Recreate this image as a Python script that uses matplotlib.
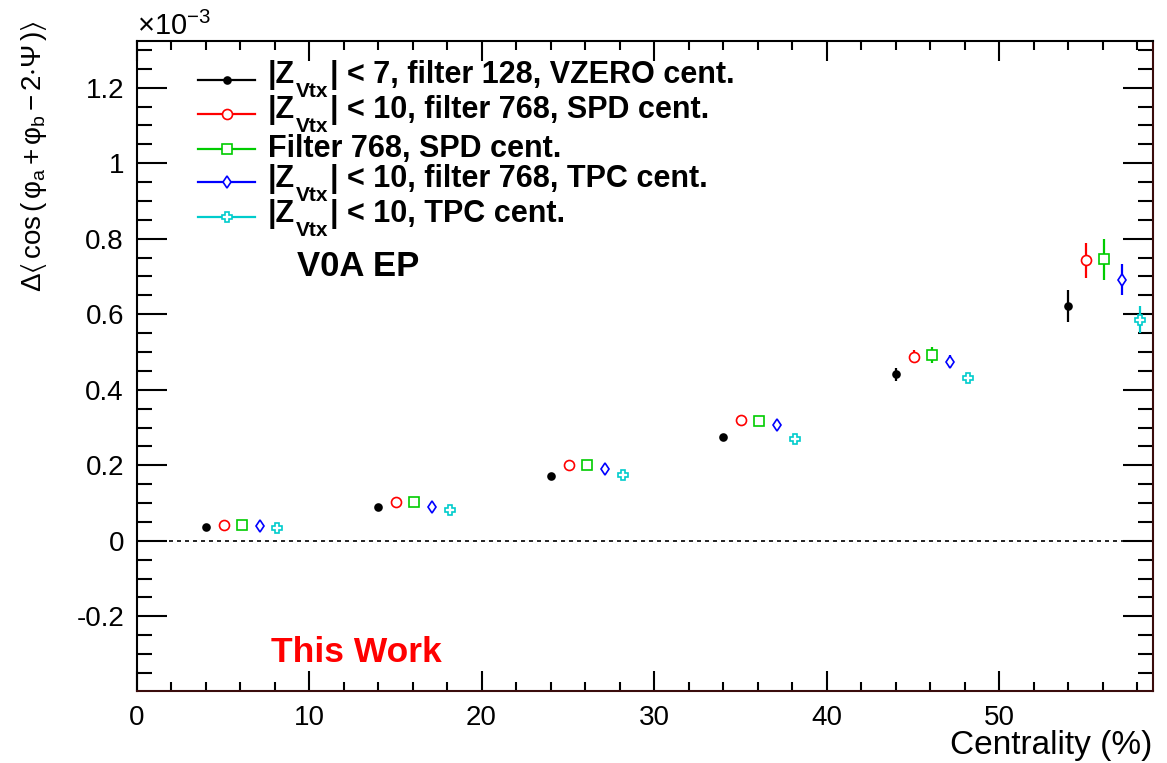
import re
import matplotlib
matplotlib.use("Agg")
import matplotlib.pyplot as plt
from matplotlib.lines import Line2D
from matplotlib.ticker import MultipleLocator, FormatStrFormatter

plt.rcParams["font.family"] = ["Liberation Sans", "DejaVu Sans"]
plt.rcParams["mathtext.fontset"] = "custom"
plt.rcParams["mathtext.rm"] = "Liberation Sans"
plt.rcParams["mathtext.it"] = "Liberation Sans:italic"
plt.rcParams["mathtext.bf"] = "Liberation Sans:bold"
plt.rcParams["mathtext.fallback"] = "stixsans"

# Centrality positions (bins offset slightly per selection for readability)
cent_vzero = [4.0, 14.0, 24.0, 34.0, 44.0, 54.0]
cent_spd10 = [5.05, 15.05, 25.05, 35.05, 45.05, 55.05]
cent_spd = [6.1, 16.1, 26.1, 36.1, 46.1, 56.1]
cent_tpc768 = [7.13, 17.13, 27.13, 37.13, 47.13, 57.13]
cent_tpc = [8.17, 18.17, 28.17, 38.17, 48.17, 58.17]

# Delta<cos(phi_a + phi_b - 2 Psi)> in units of 1e-3
val_vzero = [0.037, 0.090, 0.172, 0.276, 0.441, 0.622]
val_spd10 = [0.041, 0.102, 0.200, 0.320, 0.488, 0.743]
val_spd = [0.041, 0.102, 0.200, 0.318, 0.492, 0.745]
val_tpc768 = [0.039, 0.089, 0.189, 0.306, 0.474, 0.692]
val_tpc = [0.034, 0.081, 0.173, 0.269, 0.430, 0.586]

err_vzero = [0.003, 0.004, 0.005, 0.007, 0.017, 0.043]
err_spd10 = [0.003, 0.004, 0.006, 0.008, 0.018, 0.047]
err_spd = [0.003, 0.004, 0.006, 0.008, 0.020, 0.053]
err_tpc768 = [0.003, 0.004, 0.006, 0.008, 0.017, 0.041]
err_tpc = [0.003, 0.004, 0.005, 0.007, 0.009, 0.035]

# legend labels, "_{...}" marks a subscript
labels = [
    "|Z_{Vtx}| < 7, filter 128, VZERO cent.",
    "|Z_{Vtx}| < 10, filter 768, SPD cent.",
    "Filter 768, SPD cent.",
    "|Z_{Vtx}| < 10, filter 768, TPC cent.",
    "|Z_{Vtx}| < 10, TPC cent.",
]

series = [
    (cent_vzero, val_vzero, err_vzero, "black", "o", 5.0, True),
    (cent_spd10, val_spd10, err_spd10, "#ff0000", "o", 7.2, False),
    (cent_spd, val_spd, err_spd, "#00cc00", "s", 7.0, False),
    (cent_tpc768, val_tpc768, err_tpc768, "#0000ff", "d", 6.0, False),
    (cent_tpc, val_tpc, err_tpc, "#00cccc", "P", 7.2, False),
]

W, H = 1167, 763
fig = plt.figure(figsize=(W / 100, H / 100), dpi=100)
L, R, T, B = 136.5, 1152.7, 40.5, 690.7
ax = fig.add_axes([L / W, 1 - B / H, (R - L) / W, (B - T) / H])

ax.set_xlim(0, 58.9)
ax.set_ylim(-0.397, 1.325)

ax.axhline(0, color="black", lw=1.2, ls=(0, (2.4, 2.4)), zorder=1)

for x, y, e, c, m, ms, filled in series:
    ax.errorbar(x, y, yerr=e, fmt=m, color=c, mec=c,
                mfc=c if filled else "white", ms=ms, mew=1.2,
                elinewidth=1.6, capsize=0, zorder=3)


def ax_x(px):
    return (px - L) / (R - L)


def ax_y(py):
    return (B - py) / (B - T)


renderer = fig.canvas.get_renderer()


def draw_label(x_px, base_px, s, size=22, sub_size=15, sub_drop=14.0):
    """Write a bold label with subscripts placed below the baseline."""
    pieces = re.split(r"_\{(.*?)\}", s)
    x = x_px
    for i, piece in enumerate(pieces):
        if not piece:
            continue
        sub = i % 2 == 1
        y = base_px + (sub_drop if sub else 0.0)
        t = fig.text(x / W, 1 - y / H, piece, fontsize=sub_size if sub else size,
                     fontweight="bold", ha="left", va="baseline")
        x = t.get_window_extent(renderer).x1 + 1.0


# legend entries
rows = [80.0, 114.3, 148.7, 182.3, 216.7]
baselines = [83.3, 118.3, 157.0, 186.7, 221.7]
for (x, y, e, c, m, ms, filled), lab, py, pb in zip(series, labels, rows, baselines):
    ax.add_line(Line2D([ax_x(198), ax_x(255)], [ax_y(py), ax_y(py)],
                       transform=ax.transAxes, color=c, lw=1.6, zorder=4))
    ax.add_line(Line2D([ax_x(226.5)], [ax_y(py)], transform=ax.transAxes,
                       marker=m, ms=ms, mew=1.2, mec=c,
                       mfc=c if filled else "white", ls="none", zorder=5))
    draw_label(268, pb, lab)

ax.text(ax_x(297), ax_y(267), "V0A EP", transform=ax.transAxes,
        fontsize=25, fontweight="bold", ha="left", va="center")
ax.text(ax_x(271), ax_y(652), "This Work", transform=ax.transAxes,
        fontsize=25.5, fontweight="bold", color="#ff0000",
        ha="left", va="center")

# axes styling
ax.xaxis.set_major_locator(MultipleLocator(10))
ax.xaxis.set_minor_locator(MultipleLocator(2))
ax.yaxis.set_major_locator(MultipleLocator(0.2))
ax.yaxis.set_minor_locator(MultipleLocator(0.05))
ax.xaxis.set_major_formatter(FormatStrFormatter("%g"))
ax.yaxis.set_major_formatter(FormatStrFormatter("%g"))

ax.tick_params(which="both", direction="in", top=True, right=True,
               width=1.5, colors="black", labelsize=20)
ax.tick_params(axis="x", which="major", length=14.4, pad=10)
ax.tick_params(axis="x", which="minor", length=6.5)
ax.tick_params(axis="y", which="major", length=21.6, pad=9)
ax.tick_params(axis="y", which="minor", length=10.8)

for side in ["left", "top"]:
    ax.spines[side].set_linewidth(1.5)
for side in ["right", "bottom"]:
    ax.spines[side].set_linewidth(1.5)
    ax.spines[side].set_color("#3a0c0c")

fig.text(137 / W, 1 - 35 / H, r"$\times$10$^{\mathrm{-3}}$", fontsize=21,
         ha="left", va="baseline")
fig.text(R / W, 1 - 754 / H, "Centrality (%)", fontsize=24,
         ha="right", va="baseline")
fig.text(34 / W, 1 - 20 / H,
         r"$\Delta\langle\,\mathrm{cos}\,(\,\mathrm{φ}_{\mathrm{a}}\,{+}\,"
         r"\mathrm{φ}_{\mathrm{b}}\,{-}\,2{\cdot}\Psi\,)\rangle$",
         fontsize=20, rotation=90, ha="center", va="top")

fig.savefig("out.png", dpi=100)
